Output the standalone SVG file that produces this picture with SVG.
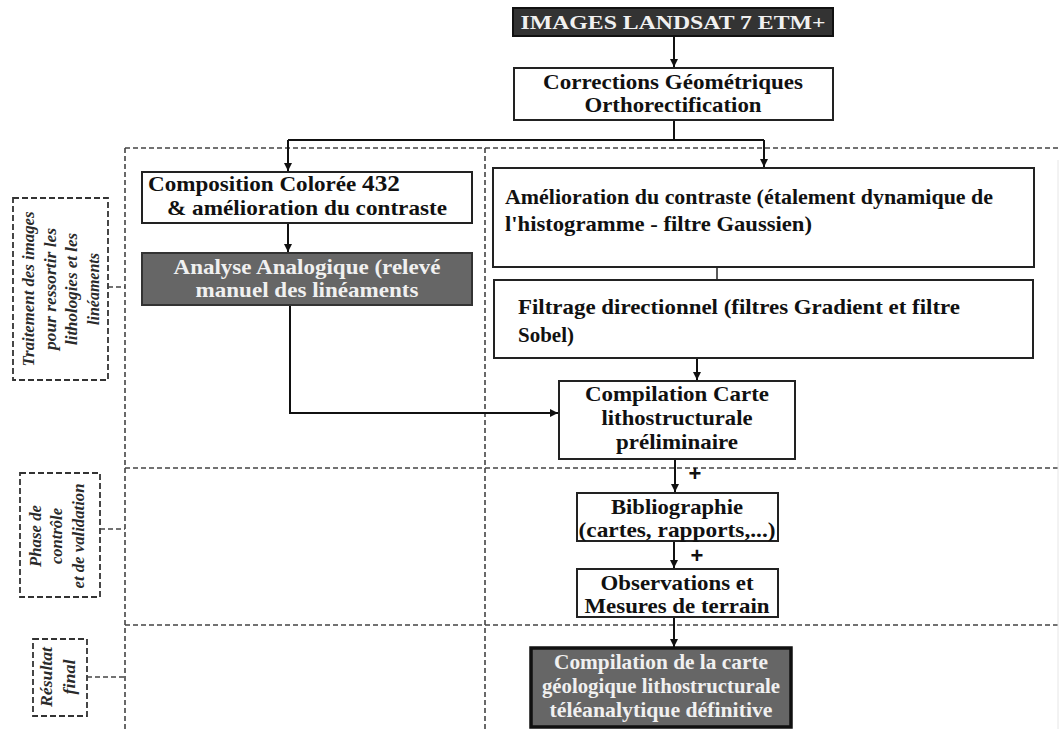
<svg xmlns="http://www.w3.org/2000/svg" width="1061" height="729" viewBox="0 0 1061 729">
<defs>
<marker id="ah" viewBox="0 0 10 10" refX="10" refY="5" markerWidth="8" markerHeight="9" orient="auto" markerUnits="userSpaceOnUse">
<path d="M0,0 L10,5 L0,10 z" fill="#111"/>
</marker>
<style>
.box{fill:#fff;stroke:#222;stroke-width:2}
.dark{fill:#333;stroke:#111;stroke-width:2}
.grey{fill:#666;stroke:#333;stroke-width:2}
.final{fill:#666;stroke:#111;stroke-width:3.5}
.t{font-family:"Liberation Serif","Times New Roman",serif;font-weight:bold;font-size:21px;fill:#111}
.w{fill:#f0f0f0}
.c{text-anchor:middle}
.dash{fill:none;stroke:#444;stroke-width:1.6;stroke-dasharray:5,3}
.lab{fill:#fff;stroke:#333;stroke-width:1.8;stroke-dasharray:6,3}
.lt{font-family:"Liberation Serif","Times New Roman",serif;font-style:italic;font-weight:bold;font-size:17px;fill:#2a2a2a;text-anchor:middle}
.ln{fill:none;stroke:#111;stroke-width:2}
.plus{font-family:"Liberation Sans",Arial,sans-serif;font-weight:bold;font-size:22px;fill:#111;text-anchor:middle}
</style>
</defs>
<rect width="1061" height="729" fill="#fff"/>

<g id="frame">
<line class="dash" x1="125" y1="148" x2="1061" y2="148"/>
<line class="dash" x1="125" y1="468" x2="1061" y2="468"/>
<line class="dash" x1="125" y1="625" x2="1061" y2="625"/>
<line class="dash" x1="125" y1="148" x2="125" y2="729"/>
<line class="dash" x1="485" y1="148" x2="485" y2="729"/>
<line x1="1058" y1="160" x2="1058" y2="729" stroke="#e6e6e6" stroke-width="1"/>
</g>

<g id="label-traitement">
<rect class="lab" x="13" y="198" width="95" height="182"/>
<g transform="translate(60,289) rotate(-90)">
<text class="lt" x="0" y="-26" textLength="155" lengthAdjust="spacingAndGlyphs">Traitement des images</text>
<text class="lt" x="0" y="-4" textLength="122" lengthAdjust="spacingAndGlyphs">pour ressortir les</text>
<text class="lt" x="0" y="17" textLength="112" lengthAdjust="spacingAndGlyphs">lithologies et les</text>
<text class="lt" x="0" y="39" textLength="72" lengthAdjust="spacingAndGlyphs">linéaments</text>
</g>
<line class="dash" x1="108" y1="287" x2="125" y2="287"/>
</g>

<g id="label-controle">
<rect class="lab" x="20" y="473" width="80" height="124"/>
<g transform="translate(60,536) rotate(-90)">
<text class="lt" x="0" y="-19" textLength="62" lengthAdjust="spacingAndGlyphs">Phase de</text>
<text class="lt" x="0" y="2" textLength="56" lengthAdjust="spacingAndGlyphs">contrôle</text>
<text class="lt" x="0" y="24" textLength="105" lengthAdjust="spacingAndGlyphs">et de validation</text>
</g>
<line class="dash" x1="100" y1="529" x2="125" y2="529"/>
</g>

<g id="label-resultat">
<rect class="lab" x="33" y="639" width="54" height="77"/>
<g transform="translate(60,677) rotate(-90)">
<text class="lt" x="0" y="-8" textLength="60" lengthAdjust="spacingAndGlyphs">Résultat</text>
<text class="lt" x="0" y="15" textLength="35" lengthAdjust="spacingAndGlyphs">final</text>
</g>
<line class="dash" x1="87" y1="677" x2="125" y2="677"/>
</g>

<g id="connectors">
<line class="ln" x1="674" y1="36" x2="674" y2="67" marker-end="url(#ah)"/>
<polyline class="ln" points="674,120 674,140"/>
<polyline class="ln" points="288,140 764,140"/>
<line class="ln" x1="288" y1="140" x2="288" y2="171" marker-end="url(#ah)"/>
<line class="ln" x1="764" y1="140" x2="764" y2="167" marker-end="url(#ah)"/>
<line class="ln" x1="288" y1="223" x2="288" y2="252" marker-end="url(#ah)"/>
<line x1="717" y1="267" x2="717" y2="280" stroke="#222" stroke-width="1.5"/>
<line class="ln" x1="697" y1="358" x2="697" y2="380" marker-end="url(#ah)"/>
<polyline class="ln" points="290,305 290,413 558,413" marker-end="url(#ah)"/>
<line class="ln" x1="675" y1="459" x2="675" y2="492" marker-end="url(#ah)"/>
<line class="ln" x1="674" y1="541" x2="674" y2="568" marker-end="url(#ah)"/>
<line class="ln" x1="674" y1="617" x2="674" y2="647" marker-end="url(#ah)"/>
<text class="plus" x="695" y="481">+</text>
<text class="plus" x="697" y="563">+</text>
</g>

<g id="n-landsat">
<rect class="dark" x="513" y="8" width="320" height="28"/>
<text class="t w c" x="673" y="29" style="font-size:19px" textLength="305" lengthAdjust="spacingAndGlyphs">IMAGES LANDSAT 7 ETM+</text>
</g>

<g id="n-corrections">
<rect class="box" x="514" y="68" width="319" height="52"/>
<text class="t c" x="673" y="89" textLength="260" lengthAdjust="spacingAndGlyphs">Corrections Géométriques</text>
<text class="t c" x="673" y="112" textLength="177" lengthAdjust="spacingAndGlyphs">Orthorectification</text>
</g>

<g id="n-composition">
<rect class="box" x="142" y="172" width="330" height="51"/>
<text class="t" x="148" y="191" textLength="252" lengthAdjust="spacingAndGlyphs">Composition Colorée <tspan style="font-size:23px">432</tspan></text>
<text class="t" x="167" y="215" textLength="280" lengthAdjust="spacingAndGlyphs">&amp; amélioration du contraste</text>
</g>

<g id="n-analyse">
<rect class="grey" x="142" y="253" width="330" height="52"/>
<text class="t w c" x="307" y="274" textLength="267" lengthAdjust="spacingAndGlyphs">Analyse Analogique (relevé</text>
<text class="t w c" x="307" y="297" textLength="223" lengthAdjust="spacingAndGlyphs">manuel des linéaments</text>
</g>

<g id="n-amelioration">
<rect class="box" x="493" y="168" width="541" height="99"/>
<text class="t" x="505" y="204" style="font-size:22px" textLength="488" lengthAdjust="spacingAndGlyphs">Amélioration du contraste (étalement dynamique de</text>
<text class="t" x="505" y="231" style="font-size:22px" textLength="307" lengthAdjust="spacingAndGlyphs">l'histogramme - filtre Gaussien)</text>
</g>

<g id="n-filtrage">
<rect class="box" x="494" y="280" width="539" height="78"/>
<text class="t" x="518" y="314" style="font-size:22px" textLength="442" lengthAdjust="spacingAndGlyphs">Filtrage directionnel (filtres Gradient et filtre</text>
<text class="t" x="518" y="342" style="font-size:22px" textLength="56" lengthAdjust="spacingAndGlyphs">Sobel)</text>
</g>

<g id="n-compilation">
<rect class="box" x="559" y="381" width="236" height="78"/>
<text class="t c" x="677" y="401" textLength="184" lengthAdjust="spacingAndGlyphs">Compilation Carte</text>
<text class="t c" x="677" y="425" textLength="151" lengthAdjust="spacingAndGlyphs">lithostructurale</text>
<text class="t c" x="677" y="449" textLength="122" lengthAdjust="spacingAndGlyphs">préliminaire</text>
</g>

<g id="n-biblio">
<rect class="box" x="577" y="493" width="201" height="48"/>
<text class="t c" x="677" y="514" textLength="132" lengthAdjust="spacingAndGlyphs">Bibliographie</text>
<text class="t c" x="677" y="537" textLength="197" lengthAdjust="spacingAndGlyphs">(cartes, rapports,...)</text>
</g>

<g id="n-observations">
<rect class="box" x="577" y="569" width="201" height="48"/>
<text class="t c" x="677" y="590" textLength="153" lengthAdjust="spacingAndGlyphs">Observations et</text>
<text class="t c" x="677" y="613" textLength="185" lengthAdjust="spacingAndGlyphs">Mesures de terrain</text>
</g>

<g id="n-final">
<rect class="final" x="531" y="648" width="260" height="79"/>
<text class="t w c" x="661" y="669" textLength="214" lengthAdjust="spacingAndGlyphs">Compilation de la carte</text>
<text class="t w c" x="661" y="693" textLength="238" lengthAdjust="spacingAndGlyphs">géologique lithostructurale</text>
<text class="t w c" x="661" y="717" textLength="223" lengthAdjust="spacingAndGlyphs">téléanalytique définitive</text>
</g>
</svg>
